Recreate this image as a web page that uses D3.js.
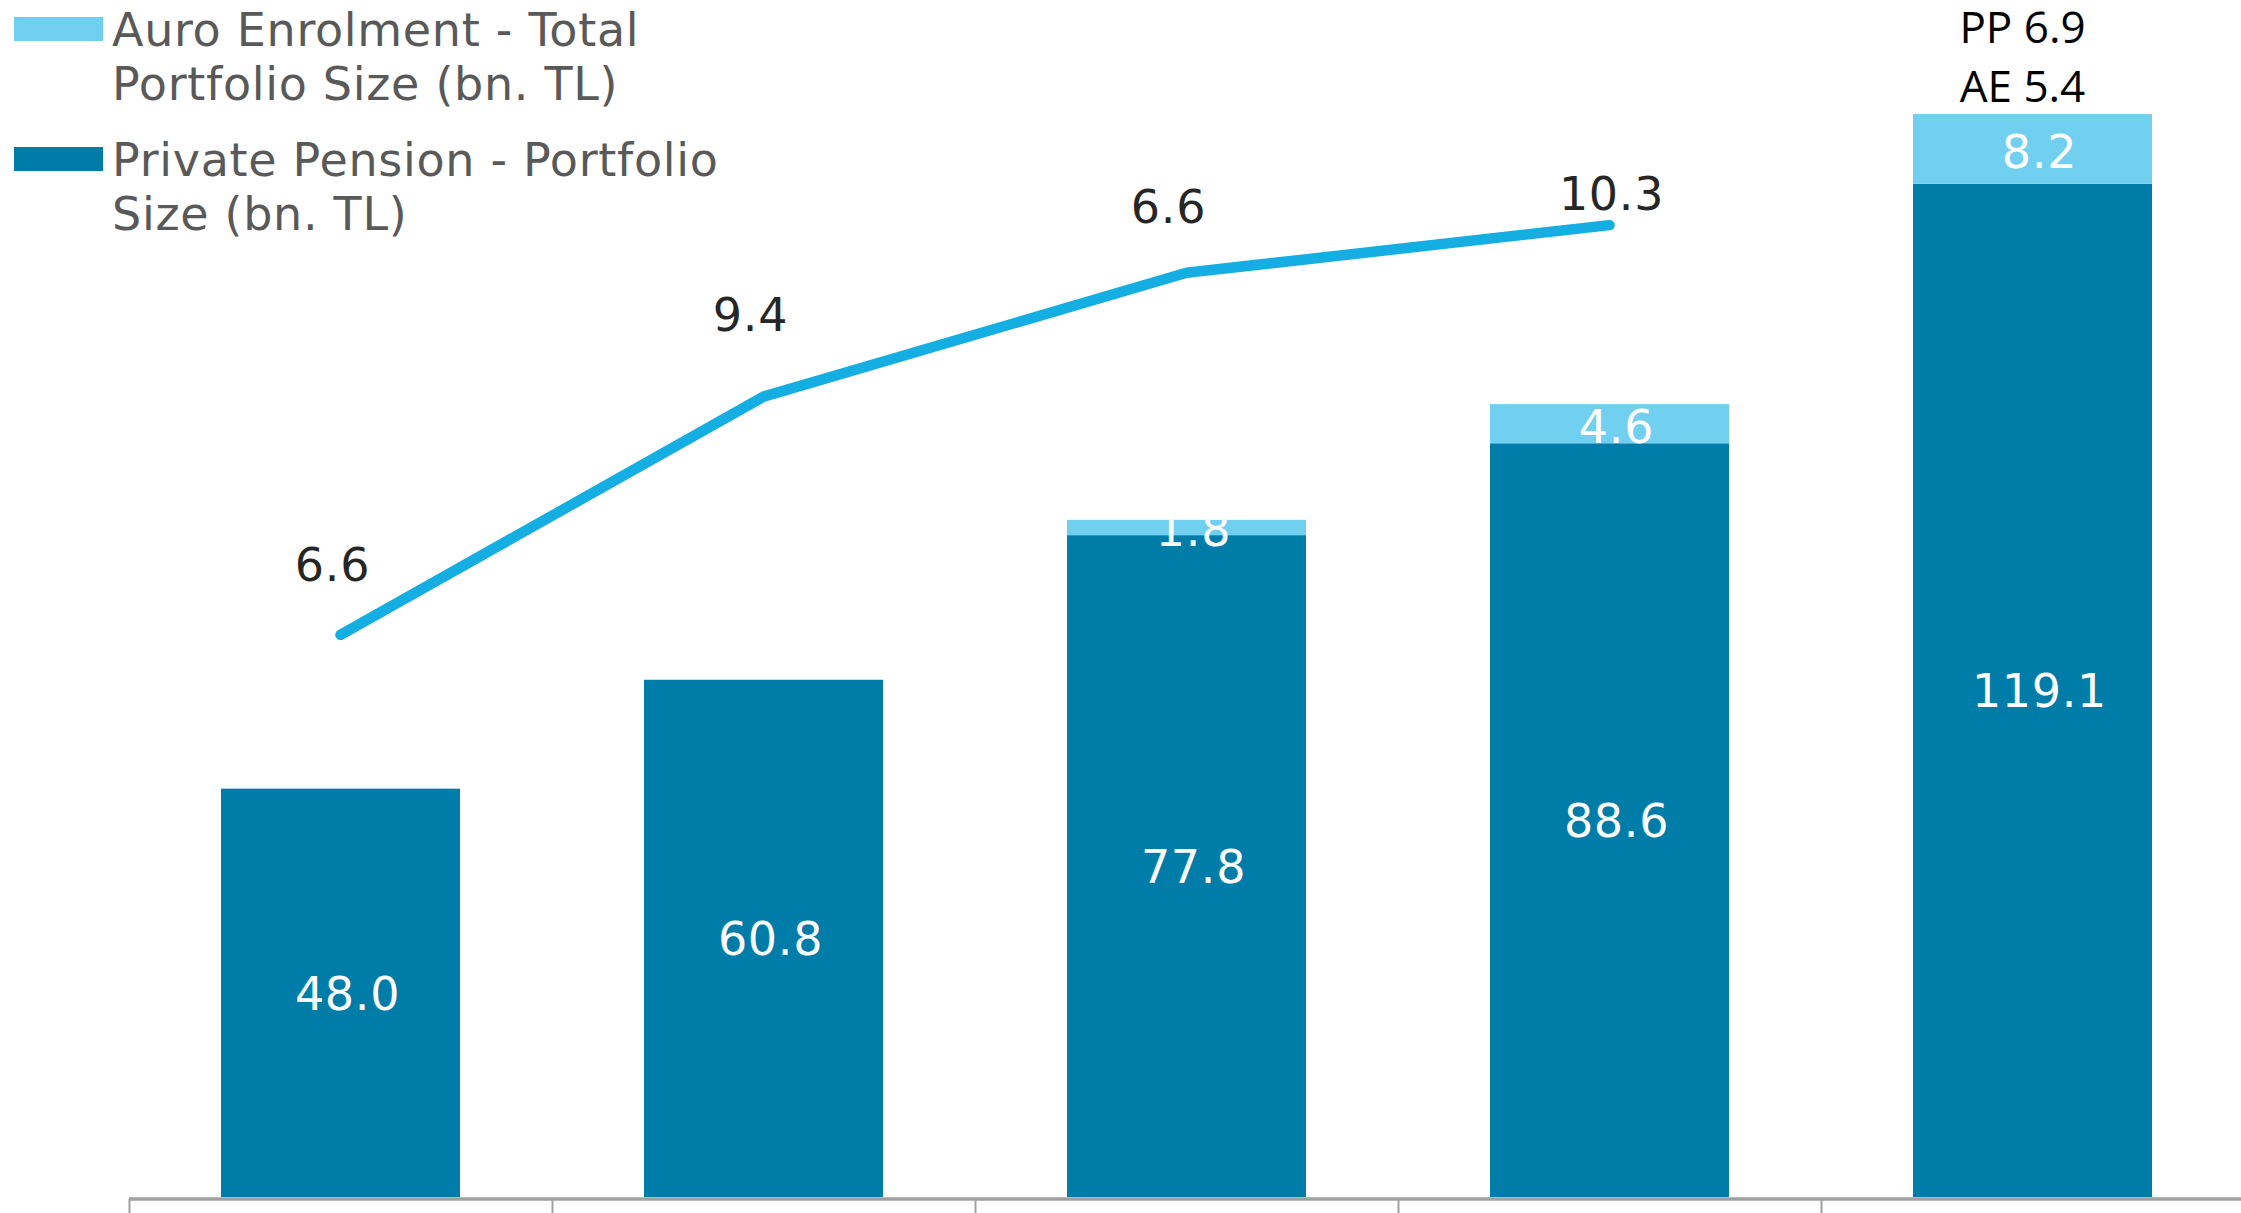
<!DOCTYPE html>
<html>
<head>
<meta charset="utf-8">
<script src="https://cdn.jsdelivr.net/npm/d3@7"></script>
<style>
  body { margin: 0; background: #fff; }
  svg { display: block; }
  text { font-family: "DejaVu Sans", Verdana, sans-serif; letter-spacing: 0.7px; }
</style>
</head>
<body>
<script>
// data
const years = ['2015', '2016', '2017', '2018', '2019']
const privatePension = [48.0, 60.8, 77.8, 88.6, 119.1]
const autoEnrolment = [0, 0, 1.8, 4.6, 8.2]
const lineYears = ['2015', '2016', '2017', '2018']
const lineValues = [5.9, 8.4, 9.7, 10.2]
const lineLabels = ['6.6', '9.4', '6.6', '10.3']
const topNotes = ['PP 6.9', 'AE 5.4']
const legendItems = [
  { lines: ['Auro Enrolment - Total', 'Portfolio Size (bn. TL)'], color: '#71cff0' },
  { lines: ['Private Pension - Portfolio', 'Size (bn. TL)'], color: '#007ca8' }
]

// layout (hand nudges for the line labels, as in the original)
const labelNudge = [[-8, -54], [-13, -66], [-18, -50], [2, -15]]

const W = 2241, H = 1213
const BASE = 1197
const DARK = '#007ca8', LIGHT = '#71cff0', LINE = '#14aee3'

let svg = d3.select('body').append('svg')
  .attr('width', W)
  .attr('height', H)

let x = d3.scaleBand()
  .domain(years)
  .range([129, 2244])
  .paddingInner(0.435)
  .paddingOuter(0.2175)

let y = d3.scaleLinear().domain([0, 140]).range([BASE, 6])
let y2 = d3.scaleLinear().domain([0, 12.5]).range([BASE, 6])

let data = years.map((yr, i) => ({ year: yr, pp: privatePension[i], ae: autoEnrolment[i], i: i }))

// clip per column so the small segment label gets cut at the bar top
let defs = svg.append('defs')
defs.selectAll('clipPath')
  .data(data)
  .enter().append('clipPath')
    .attr('id', (d) => 'col' + d.i)
  .append('rect')
    .attr('x', (d) => x(d.year))
    .attr('y', (d) => y(d.pp + d.ae))
    .attr('width', x.bandwidth())
    .attr('height', (d) => BASE - y(d.pp + d.ae))

// bars
let bars = svg.append('g').attr('class', 'bars')
bars.selectAll('.pp')
  .data(data)
  .enter().append('rect')
    .attr('class', 'pp')
    .attr('x', (d) => x(d.year))
    .attr('y', (d) => y(d.pp))
    .attr('width', x.bandwidth())
    .attr('height', (d) => y(0) - y(d.pp))
    .attr('fill', DARK)
bars.selectAll('.ae')
  .data(data.filter((d) => d.ae > 0))
  .enter().append('rect')
    .attr('class', 'ae')
    .attr('x', (d) => x(d.year))
    .attr('y', (d) => y(d.pp + d.ae))
    .attr('width', x.bandwidth())
    .attr('height', (d) => y(d.pp) - y(d.pp + d.ae))
    .attr('fill', LIGHT)

// bar labels
bars.selectAll('.pp-label')
  .data(data)
  .enter().append('text')
    .attr('class', 'pp-label')
    .attr('x', (d) => x(d.year) + x.bandwidth() / 2 + 7)
    .attr('y', (d) => (y(0) + y(d.pp)) / 2)
    .attr('dy', '0.37em')
    .attr('text-anchor', 'middle')
    .attr('font-size', 46)
    .attr('fill', '#fff')
    .text((d) => d.pp.toFixed(1))
bars.selectAll('.ae-label')
  .data(data.filter((d) => d.ae > 0))
  .enter().append('text')
    .attr('class', 'ae-label')
    .attr('clip-path', (d) => 'url(#col' + d.i + ')')
    .attr('x', (d) => x(d.year) + x.bandwidth() / 2 + 7)
    .attr('y', (d) => (y(d.pp) + y(d.pp + d.ae)) / 2)
    .attr('dy', '0.41em')
    .attr('text-anchor', 'middle')
    .attr('font-size', 46)
    .attr('fill', '#fff')
    .text((d) => d.ae.toFixed(1))

// line
let cx = (yr) => x(yr) + x.bandwidth() / 2
let line = d3.line()
  .x((d, i) => cx(lineYears[i]))
  .y((d) => y2(d))
svg.append('path')
  .datum(lineValues)
  .attr('d', line)
  .attr('fill', 'none')
  .attr('stroke', LINE)
  .attr('stroke-width', 10.5)
  .attr('stroke-linecap', 'round')
  .attr('stroke-linejoin', 'round')

svg.append('g').selectAll('text')
  .data(lineValues)
  .enter().append('text')
    .attr('x', (d, i) => cx(lineYears[i]) + labelNudge[i][0])
    .attr('y', (d, i) => y2(d) + labelNudge[i][1])
    .attr('text-anchor', 'middle')
    .attr('font-size', 46)
    .attr('fill', '#262626')
    .text((d, i) => lineLabels[i])

// note above last bar
let last = data[data.length - 1]
svg.append('g').selectAll('text')
  .data(topNotes)
  .enter().append('text')
    .attr('x', cx(last.year) - 10)
    .attr('y', (d, i) => y(last.pp + last.ae) - 71 + i * 59)
    .attr('text-anchor', 'middle')
    .attr('font-size', 44)
    .attr('fill', '#000')
    .style('font-family', '"Open Sans", sans-serif')
    .style('letter-spacing', '0px')
    .text((d) => d)

// x axis: baseline + ticks at band boundaries
let axis = svg.append('g').attr('class', 'x axis')
axis.append('line')
  .attr('x1', x.range()[0]).attr('x2', W)
  .attr('y1', BASE + 2).attr('y2', BASE + 2)
  .attr('stroke', '#a0a0a0')
  .attr('stroke-width', 3.5)
let gap = (x.step() - x.bandwidth()) / 2
axis.selectAll('.tick')
  .data(years)
  .enter().append('line')
    .attr('class', 'tick')
    .attr('x1', (d) => Math.round(x(d) - gap) + 0.5)
    .attr('x2', (d) => Math.round(x(d) - gap) + 0.5)
    .attr('y1', BASE + 2)
    .attr('y2', H)
    .attr('stroke', '#a0a0a0')
    .attr('stroke-width', 2)

// legend
let legend = svg.append('g').attr('class', 'legend')
let item = legend.selectAll('g')
  .data(legendItems)
  .enter().append('g')
    .attr('transform', (d, i) => 'translate(0,' + (i * 130) + ')')
item.append('rect')
  .attr('x', 14).attr('y', 17)
  .attr('width', 89).attr('height', 24)
  .attr('fill', (d) => d.color)
item.each(function(d) {
  let t = d3.select(this).append('text')
    .attr('font-size', 46)
    .attr('fill', '#595959')
  d.lines.forEach((ln, j) => {
    t.append('tspan')
      .attr('x', 112)
      .attr('y', 46 + j * 54)
      .text(ln)
  })
})
</script>
</body>
</html>
